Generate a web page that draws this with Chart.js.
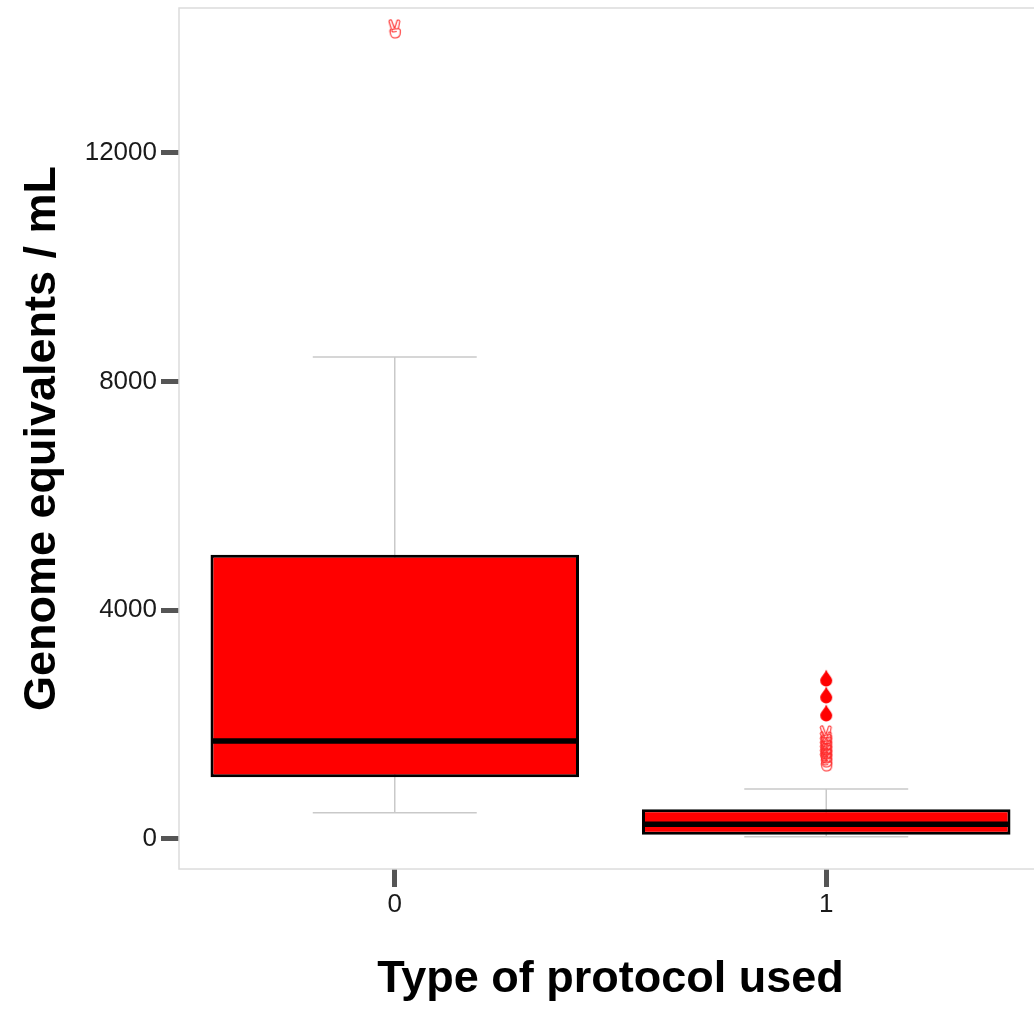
<!DOCTYPE html>
<html>
<head>
<meta charset="utf-8">
<script src="https://cdn.jsdelivr.net/npm/chart.js@4"></script>
<style>
    html, body { margin: 0; padding: 0; background: #fff; overflow: hidden; }
    canvas { display: block; }
</style>
</head>
<body>
<canvas id="chart" width="1042" height="1010"></canvas>
<script>
// Box plot: genome equivalents per mL by protocol type

const categories = ['0', '1'];
const q1 = [1080, 75];
const q3 = [4970, 519];
const medians = [1714, 257];
const whiskerLow = [460, 40];
const whiskerHigh = [8430, 875];
const outlierHands = [[14170], [1820, 1715, 1630, 1560, 1490, 1420, 1350]];
const outlierDrops = [[], [2815, 2520, 2205]];
const yTicks = [0, 4000, 8000, 12000];

const FONT = "'Liberation Sans', Arial, sans-serif";

// marker images
function makeHand() {
    const c = document.createElement('canvas');
    c.width = 14;
    c.height = 20;
    const g = c.getContext('2d');
    g.strokeStyle = '#ff2a2a';
    g.lineWidth = 1.1;
    g.lineJoin = 'round';
    g.beginPath();
    // two raised fingers
    g.moveTo(3.5, 10);
    g.lineTo(1.2, 2.5);
    g.quadraticCurveTo(1.5, 0.5, 3.5, 1);
    g.lineTo(6.5, 9);
    g.moveTo(7, 9);
    g.lineTo(9.5, 1.2);
    g.quadraticCurveTo(11.5, 0.5, 12, 2.5);
    g.lineTo(10.5, 10);
    // palm and curled fingers
    g.moveTo(3.5, 10);
    g.quadraticCurveTo(1.5, 11, 2.5, 14);
    g.quadraticCurveTo(3, 19, 7, 19);
    g.quadraticCurveTo(12.5, 19, 12.5, 14);
    g.lineTo(12.5, 11);
    g.quadraticCurveTo(11, 9, 9, 10);
    g.quadraticCurveTo(6.5, 9.5, 4.5, 10.5);
    g.quadraticCurveTo(3, 13, 6, 13);
    g.lineTo(9, 12.5);
    g.stroke();
    return c;
}

function makeDrop() {
    const c = document.createElement('canvas');
    c.width = 14;
    c.height = 18;
    const g = c.getContext('2d');
    g.fillStyle = '#ff0000';
    g.beginPath();
    g.moveTo(7, 0.5);
    g.bezierCurveTo(8.5, 5, 13, 8, 13, 11.5);
    g.arc(7, 11.5, 6, 0, Math.PI);
    g.bezierCurveTo(1, 8, 5.5, 5, 7, 0.5);
    g.closePath();
    g.fill();
    return c;
}

function toPoints(groups) {
    const pts = [];
    groups.forEach((vals, i) => {
        vals.forEach(v => pts.push({ x: categories[i], y: v }));
    });
    return pts;
}

// whiskers behind boxes, medians on top, panel frame
const boxExtras = {
    id: 'boxExtras',
    beforeDatasetsDraw(chart) {
        const ctx = chart.ctx;
        const x = chart.scales.x;
        const y = chart.scales.y;
        const step = x.getPixelForTick(1) - x.getPixelForTick(0);
        ctx.save();
        ctx.strokeStyle = '#c9c9c9';
        ctx.lineWidth = 1.5;
        categories.forEach((c, i) => {
            const cx = x.getPixelForTick(i);
            const half = step * 0.19;
            ctx.beginPath();
            ctx.moveTo(cx, y.getPixelForValue(whiskerLow[i]));
            ctx.lineTo(cx, y.getPixelForValue(whiskerHigh[i]));
            [whiskerLow[i], whiskerHigh[i]].forEach(v => {
                const py = y.getPixelForValue(v);
                ctx.moveTo(cx - half, py);
                ctx.lineTo(cx + half, py);
            });
            ctx.stroke();
        });
        ctx.restore();
    },
    afterDatasetsDraw(chart) {
        const ctx = chart.ctx;
        const y = chart.scales.y;
        const bars = chart.getDatasetMeta(0).data;
        ctx.save();
        ctx.strokeStyle = '#000';
        ctx.lineWidth = 5.5;
        bars.forEach((bar, i) => {
            const py = y.getPixelForValue(medians[i]);
            ctx.beginPath();
            ctx.moveTo(bar.x - bar.width / 2 + 1, py);
            ctx.lineTo(bar.x + bar.width / 2 - 1, py);
            ctx.stroke();
        });
        const a = chart.chartArea;
        ctx.strokeStyle = '#dcdcdc';
        ctx.lineWidth = 1.5;
        ctx.strokeRect(a.left, a.top, a.right - a.left, a.bottom - a.top);
        ctx.restore();
    }
};

const hand = makeHand();
const drop = makeDrop();

new Chart(document.getElementById('chart').getContext('2d'), {
    type: 'bar',
    data: {
        labels: categories,
        datasets: [
            {
                data: categories.map((c, i) => [q1[i], q3[i]]),
                backgroundColor: '#ff0000',
                borderColor: '#000000',
                borderWidth: 3,
                borderSkipped: false,
                barPercentage: 0.854,
                categoryPercentage: 1
            },
            {
                type: 'scatter',
                data: toPoints(outlierDrops),
                pointStyle: drop,
                pointRadius: 8
            },
            {
                type: 'scatter',
                data: toPoints(outlierHands),
                pointStyle: hand,
                pointRadius: 8
            }
        ]
    },
    options: {
        responsive: false,
        animation: false,
        layout: {
            autoPadding: false,
            padding: { top: 8, left: 0, right: 0, bottom: 0 }
        },
        plugins: {
            legend: { display: false },
            tooltip: { enabled: false }
        },
        scales: {
            x: {
                type: 'category',
                offset: true,
                afterFit(scale) { scale.height = 141; },
                grid: {
                    offset: false,
                    drawOnChartArea: false,
                    drawTicks: true,
                    tickLength: 18,
                    tickWidth: 5,
                    tickColor: '#555555'
                },
                border: { display: false },
                ticks: {
                    color: '#1a1a1a',
                    padding: 2,
                    font: { family: FONT, size: 26 }
                },
                title: {
                    display: true,
                    text: 'Type of protocol used',
                    color: '#000',
                    padding: { top: 0, bottom: 3 },
                    font: { family: FONT, size: 45, weight: 'bold' }
                }
            },
            y: {
                min: -525,
                max: 14535,
                afterFit(scale) {
                    scale.width = 179;
                    scale.paddingTop = 0;
                    scale.paddingBottom = 0;
                },
                afterBuildTicks(scale) {
                    scale.ticks = yTicks.map(v => ({ value: v }));
                },
                grid: {
                    drawOnChartArea: false,
                    drawTicks: true,
                    tickLength: 18,
                    tickWidth: 5,
                    tickColor: '#555555'
                },
                border: { display: false },
                ticks: {
                    color: '#1a1a1a',
                    padding: 4,
                    font: { family: FONT, size: 26 },
                    callback: v => String(v)
                },
                title: {
                    display: true,
                    text: 'Genome equivalents / mL',
                    color: '#000',
                    padding: { top: 16, bottom: 0 },
                    font: { family: FONT, size: 45, weight: 'bold' }
                }
            }
        }
    },
    plugins: [boxExtras]
});
</script>
</body>
</html>
